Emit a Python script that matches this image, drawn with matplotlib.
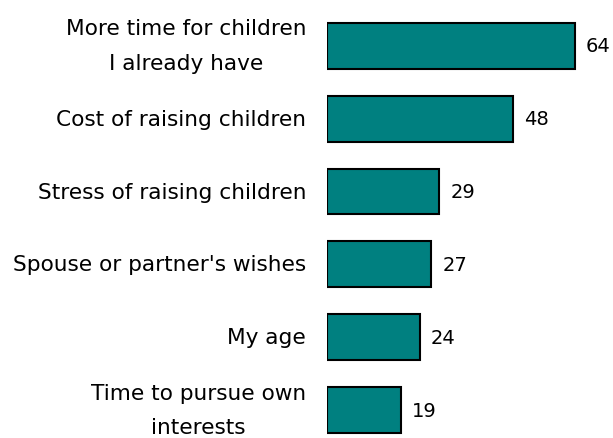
import matplotlib
matplotlib.use("Agg")
import matplotlib.pyplot as plt
import numpy as np

categories = ["More time for children\nI already have",
              "Cost of raising children",
              "Stress of raising children",
              "Spouse or partner's wishes",
              "My age",
              "Time to pursue own\ninterests"]
values = [64, 48, 29, 27, 24, 19]

plt.rcParams['font.family'] = ['DejaVu Sans']

fig = plt.figure(figsize=(6.13, 4.39), dpi=100)
fig.patch.set_facecolor('white')
ax = fig.add_axes([327 / 613, 0, 1 - 327 / 613, 1])

y = np.arange(len(values))
ax.barh(y, values, height=0.63, color='#008080', edgecolor='black', linewidth=1.5)

for yi, v in zip(y, values):
    ax.annotate(str(v), xy=(v, yi), xytext=(8, 0), textcoords='offset points',
                ha='left', va='center', fontsize=14)

ax.set_yticks(y)
ax.set_yticklabels(categories, fontsize=15.6, linespacing=1.9)
for lab in ax.get_yticklabels():
    lab.set_verticalalignment('center')
    lab.set_horizontalalignment('right')
    lab.set_multialignment('center')
ax.tick_params(axis='y', length=0, pad=15)
ax.set_xticks([])
ax.set_xlim(0, (613 - 327) / 3.87)
ax.set_ylim(5.38, -0.64)
for s in ax.spines.values():
    s.set_visible(False)

fig.savefig("out.png", dpi=100)
